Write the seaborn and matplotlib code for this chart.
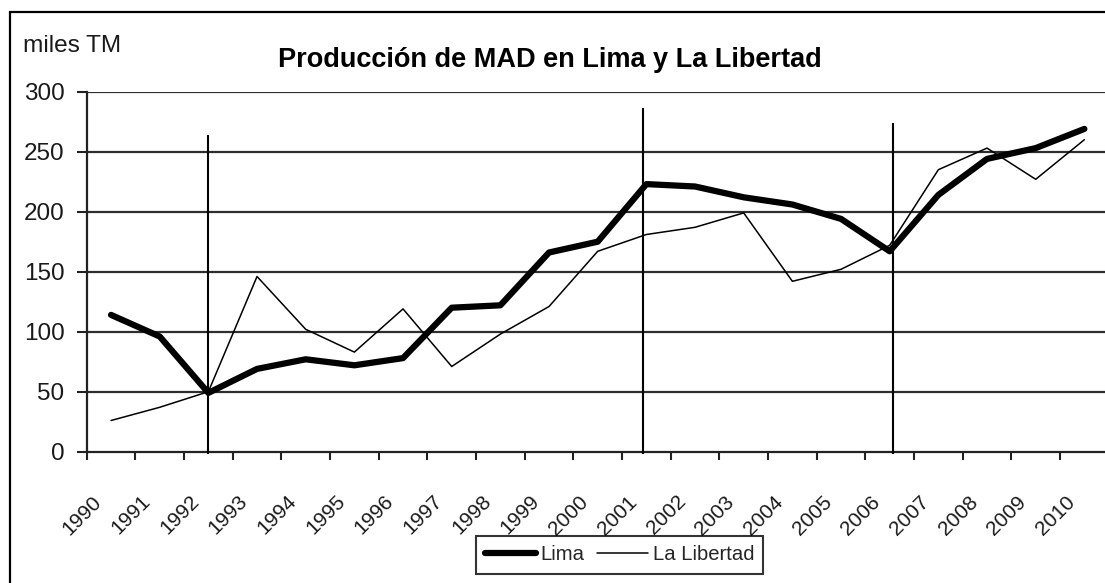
import numpy as np
import pandas as pd
import matplotlib
matplotlib.use("Agg")
import matplotlib.pyplot as plt
from matplotlib.transforms import ScaledTranslation
from matplotlib.patches import Rectangle
from matplotlib.lines import Line2D
import seaborn as sns

# ---- data ----
years = [1990, 1991, 1992, 1993, 1994, 1995, 1996, 1997, 1998, 1999, 2000,
         2001, 2002, 2003, 2004, 2005, 2006, 2007, 2008, 2009, 2010]
lima = [114, 96, 49, 69, 77, 72, 78, 120, 122, 166, 175,
        223, 221, 212, 206, 194, 167, 214, 244, 253, 269]
la_libertad = [26, 37, 50, 146, 102, 83, 119, 71, 98, 121, 167,
               181, 187, 199, 142, 152, 172, 235, 253, 227, 260]
series_names = ["Lima", "La Libertad"]
yticks = [0, 50, 100, 150, 200, 250, 300]
marker_years = [1992.0, 2000.94, 2006.07]
marker_tops = [264, 286, 274]
title = "Producción de MAD en Lima y La Libertad"
unit_label = "miles TM"

sns.set_theme(style="white")
plt.rcParams["font.family"] = ["Liberation Sans", "DejaVu Sans"]

W, H = 1105, 583
fig = plt.figure(figsize=(W / 100, H / 100), dpi=100)
fig.patch.set_facecolor("white")

ax_left, ax_right, ax_top, ax_bot = 86.7, 1108.7, 91.7, 451.7
ax = fig.add_axes([ax_left / W, 1 - ax_bot / H, (ax_right - ax_left) / W, (ax_bot - ax_top) / H])
ax.set_facecolor("white")

df = pd.DataFrame({"year": years * 2,
                   "value": lima + la_libertad,
                   "serie": [series_names[0]] * len(years) + [series_names[1]] * len(years)})

sns.lineplot(data=df[df.serie == series_names[0]], x="year", y="value", ax=ax,
             color="black", linewidth=4.5, legend=False, zorder=4)
sns.lineplot(data=df[df.serie == series_names[1]], x="year", y="value", ax=ax,
             color="black", linewidth=1.1, legend=False, zorder=3)

ax.set_xlim(years[0] - 0.5, years[-1] + 0.5)
ax.set_ylim(0, 300)
ax.set_xlabel("")
ax.set_ylabel("")

# horizontal gridlines
for v in yticks[1:]:
    ax.axhline(v, color="#2e2e2e", linewidth=1.6, zorder=1)

# vertical marker lines
for xv, top in zip(marker_years, marker_tops):
    ax.vlines(xv, -2, top, color="black", linewidth=1.5, zorder=5, clip_on=False)

# spines
for s in ["top", "right"]:
    ax.spines[s].set_visible(False)
for s in ["left", "bottom"]:
    ax.spines[s].set_color("#222222")
    ax.spines[s].set_linewidth(1.6)

# y ticks
ax.set_yticks(yticks)
ax.set_yticklabels([str(v) for v in yticks])
ax.tick_params(axis="y", which="major", length=7, width=1.5, color="#222222",
               pad=9, labelsize=17.5, labelcolor="#1a1a1a", left=True)

# x ticks: tick marks at boundaries (minor), labels at years (major)
ax.set_xticks([y - 0.5 for y in years] + [years[-1] + 0.5], minor=True)
ax.set_xticks(years)
ax.set_xticklabels([str(y) for y in years])
ax.tick_params(axis="x", which="minor", length=5.5, width=1.5, color="#222222", bottom=True)
ax.tick_params(axis="x", which="major", length=0, pad=29, labelsize=15, labelcolor="#1a1a1a")
offset = ScaledTranslation(-19 / 100, 0, fig.dpi_scale_trans)
for lab in ax.get_xticklabels():
    lab.set_rotation(45)
    lab.set_ha("right")
    lab.set_va("top")
    lab.set_rotation_mode("anchor")
    lab.set_transform(lab.get_transform() + offset)
ax.grid(False)

# titles
fig.text(550 / W, 1 - 67 / H, title, ha="center", va="baseline",
         fontsize=19.5, fontweight="bold", color="black")
fig.text(23 / W, 1 - 52 / H, unit_label, ha="left", va="baseline",
         fontsize=17.6, color="#1a1a1a")

# legend
handles = [Line2D([], [], color="black", linewidth=4.5),
           Line2D([], [], color="black", linewidth=1.1)]
leg = fig.legend(handles, series_names, loc="center",
                 bbox_to_anchor=(619.5 / W, 1 - 555 / H), ncol=2, fontsize=14.6,
                 frameon=True, fancybox=False, handlelength=2.5, handletextpad=0.25,
                 columnspacing=0.6, borderpad=0.45, borderaxespad=0)
leg.get_frame().set_edgecolor("black")
leg.get_frame().set_linewidth(1.5)

# outer chart border
fig.patches.append(Rectangle((10 / W, -0.1), 1.2, 1 - 12 / H + 0.1, transform=fig.transFigure,
                             fill=False, edgecolor="black", linewidth=1.6, zorder=0))

fig.savefig("out.png", dpi=100)
